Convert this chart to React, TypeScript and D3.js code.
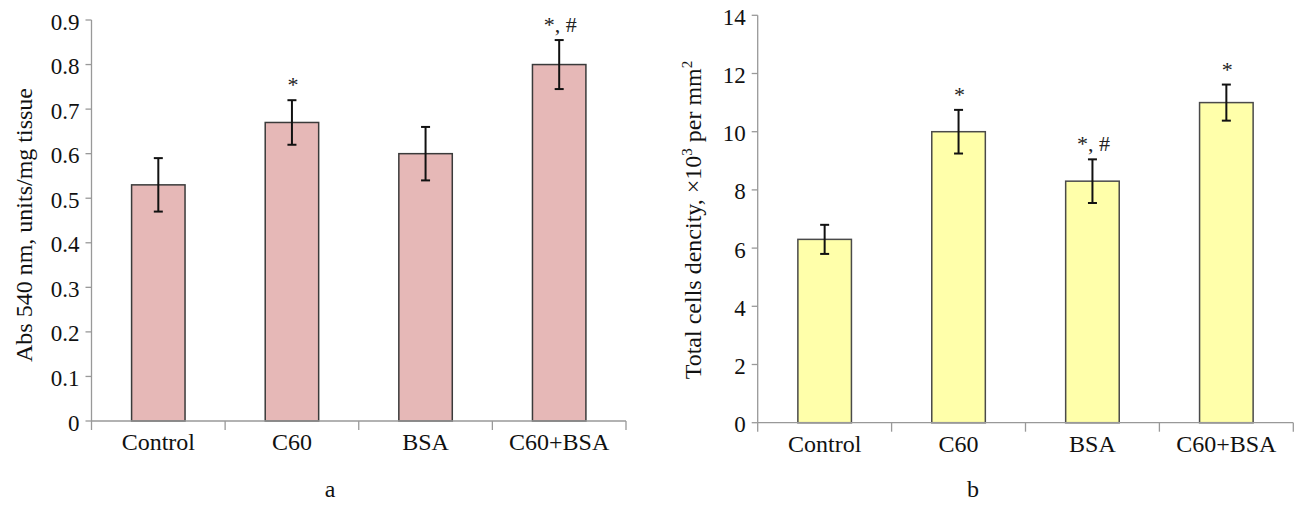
import React from "react";
import * as d3 from "d3";

const categories = ["Control", "C60", "BSA", "C60+BSA"];

const absValues = [0.53, 0.67, 0.6, 0.8];
const absErrors = [0.06, 0.05, 0.06, 0.055];
const absTicks = [0, 0.1, 0.2, 0.3, 0.4, 0.5, 0.6, 0.7, 0.8, 0.9];
const absMarks = ["", "*", "", "*, #"];

const cellValues = [6.3, 10, 8.3, 11];
const cellErrors = [0.5, 0.75, 0.75, 0.62];
const cellTicks = [0, 2, 4, 6, 8, 10, 12, 14];
const cellMarks = ["", "*", "*, #", "*"];

const FONT = "'Liberation Serif', 'Times New Roman', serif";

type PanelProps = {
  x0: number;
  x1: number;
  yBottom: number;
  yTop: number;
  maxV: number;
  values: number[];
  errors: number[];
  ticks: number[];
  marks: string[];
  fmt: (v: number) => string;
  fill: string;
  stroke: string;
  titleX: number;
  titleY: number;
  title: React.ReactNode;
  letter: string;
  letterX: number;
};

function Panel(p: PanelProps) {
  const x = d3
    .scaleBand<string>()
    .domain(categories)
    .range([p.x0, p.x1])
    .paddingInner(0.6)
    .paddingOuter(0.3);
  const y = d3.scaleLinear().domain([0, p.maxV]).range([p.yBottom, p.yTop]);
  const step = (p.x1 - p.x0) / categories.length;
  const axisColor = "#999";
  return (
    <g fontFamily={FONT}>
      {/* y axis */}
      <line x1={p.x0} x2={p.x0} y1={y(p.maxV)} y2={p.yBottom} stroke={axisColor} strokeWidth={1.3} />
      {p.ticks.map((t) => (
        <g key={t}>
          <line x1={p.x0 - 6} x2={p.x0} y1={y(t)} y2={y(t)} stroke={axisColor} strokeWidth={1.3} />
          <text x={p.x0 - 12} y={y(t) + 9.5} textAnchor="end" fontSize={23} fill="#111">
            {p.fmt(t)}
          </text>
        </g>
      ))}
      {/* bars */}
      {categories.map((c, i) => (
        <rect
          key={c}
          x={x(c)!}
          y={y(p.values[i])}
          width={x.bandwidth()}
          height={p.yBottom - y(p.values[i])}
          fill={p.fill}
          stroke={p.stroke}
          strokeWidth={1.5}
        />
      ))}
      {/* error bars */}
      {categories.map((c, i) => {
        const cx = x(c)! + x.bandwidth() / 2;
        const hi = y(p.values[i] + p.errors[i]);
        const lo = y(p.values[i] - p.errors[i]);
        return (
          <g key={c} stroke="#111" strokeWidth={2}>
            <line x1={cx} x2={cx} y1={hi} y2={lo} />
            <line x1={cx - 4.5} x2={cx + 4.5} y1={hi} y2={hi} />
            <line x1={cx - 4.5} x2={cx + 4.5} y1={lo} y2={lo} />
          </g>
        );
      })}
      {/* significance marks */}
      {categories.map((c, i) =>
        p.marks[i] ? (
          <text
            key={c}
            x={x(c)! + x.bandwidth() / 2 + 1}
            y={y(p.values[i] + p.errors[i]) - 8}
            textAnchor="middle"
            fontSize={22}
            fill="#222"
            style={{ whiteSpace: "pre" }}
          >
            {p.marks[i]}
          </text>
        ) : null
      )}
      {/* x axis */}
      <line x1={p.x0} x2={p.x1} y1={p.yBottom} y2={p.yBottom} stroke={axisColor} strokeWidth={1.3} />
      {d3.range(categories.length + 1).map((k) => (
        <line
          key={k}
          x1={p.x0 + k * step}
          x2={p.x0 + k * step}
          y1={p.yBottom}
          y2={p.yBottom + 9}
          stroke={axisColor}
          strokeWidth={1.3}
        />
      ))}
      {categories.map((c) => (
        <text key={c} x={x(c)! + x.bandwidth() / 2} y={p.yBottom + 29} textAnchor="middle" fontSize={24} fill="#111">
          {c}
        </text>
      ))}
      {/* y title */}
      <text
        transform={`translate(${p.titleX},${p.titleY}) rotate(-90)`}
        textAnchor="middle"
        fontSize={24}
        fill="#111"
      >
        {p.title}
      </text>
      <text x={p.letterX} y={497} textAnchor="middle" fontSize={24} fill="#111">
        {p.letter}
      </text>
    </g>
  );
}

export default function App() {
  return (
    <svg
      width={1299}
      height={505}
      style={{ position: "absolute", left: 0, top: 0, background: "#fff" }}
    >
      <rect width={1299} height={505} fill="#fff" />
      <Panel
        x0={91.5}
        x1={626}
        yBottom={421}
        yTop={20}
        maxV={0.9}
        values={absValues}
        errors={absErrors}
        ticks={absTicks}
        marks={absMarks}
        fmt={(v) => (v === 0 ? "0" : d3.format(".1f")(v))}
        fill="#E6B8B7"
        stroke="#3a3a3a"
        titleX={32}
        titleY={225}
        title="Abs 540 nm, units/mg tissue"
        letter="a"
        letterX={330}
      />
      <Panel
        x0={757.7}
        x1={1293.3}
        yBottom={422.7}
        yTop={15.3}
        maxV={14}
        values={cellValues}
        errors={cellErrors}
        ticks={cellTicks}
        marks={cellMarks}
        fmt={(v) => String(v)}
        fill="#FFFFAA"
        stroke="#4a4a4a"
        titleX={701}
        titleY={220}
        title={
          <>
            Total cells dencity, ×10
            <tspan fontSize={15} dy={-9}>3</tspan>
            <tspan dy={9}> per mm</tspan>
            <tspan fontSize={15} dy={-9}>2</tspan>
          </>
        }
        letter="b"
        letterX={973}
      />
    </svg>
  );
}
